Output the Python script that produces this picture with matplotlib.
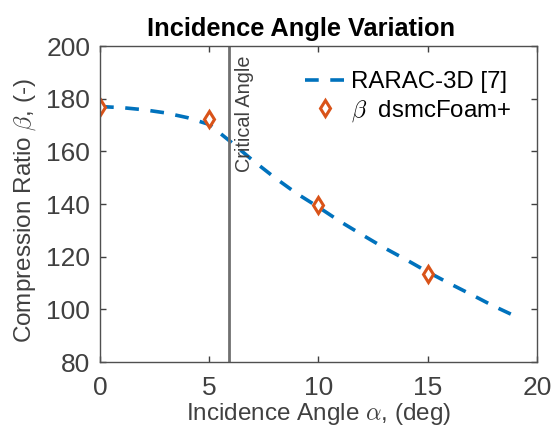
import matplotlib
matplotlib.use("Agg")
import matplotlib.pyplot as plt

# Data
x_line = [0, 1, 2, 3, 4, 5, 6, 7, 8, 9, 10, 11, 12, 13, 14, 15, 16, 17, 18, 18.8]
y_line = [177, 176.6, 175.8, 174.6, 172.8, 170.2, 163.5, 156.5, 150, 144, 138.8,
          133.3, 128.3, 123.4, 118.9, 114.2, 109.8, 105.6, 101.3, 98.2]
x_pts = [0, 5, 10, 15]
y_pts = [177, 172.3, 139.6, 113.4]
critical_angle = 5.9
x_ticks = [0, 5, 10, 15, 20]
y_ticks = [80, 100, 120, 140, 160, 180, 200]

plt.rcParams['font.family'] = ['Liberation Sans', 'DejaVu Sans']
plt.rcParams['mathtext.fontset'] = 'cm'

W, H = 555, 436
fig = plt.figure(figsize=(W/100, H/100), dpi=100)
ax = fig.add_axes([100/W, 1-362/H, (537-100)/W, (362-46)/H])

ax.plot(x_line, y_line, ls=(0, (3.8, 3.2)), color='#0072BD', lw=2.6, label='RARAC-3D [7]')
ax.plot(x_pts, y_pts, ls='none', marker='d', ms=8, mfc='white', mec='#D95319', mew=2.2,
        label=r'$\beta$  dsmcFoam+')
ax.axvline(critical_angle, color='#707070', lw=2)
ax.text(critical_angle + 0.3, 196.3, 'Critical Angle', rotation=90, ha='left', va='top',
        fontsize=14.3, color='#404040')

ax.set_xlim(0, 20)
ax.set_ylim(80, 200)
ax.set_xticks(x_ticks)
ax.set_yticks(y_ticks)
gray = '#404040'
ax.tick_params(direction='in', top=True, right=True, labelsize=19, colors=gray,
               length=4, width=1)
ax.tick_params(axis='x', pad=10)
ax.tick_params(axis='y', pad=7)
for s in ax.spines.values():
    s.set_color('#505050')
    s.set_linewidth(1)
ax.set_xlabel(r'Incidence Angle $\alpha$, (deg)', fontsize=17.5, color=gray, labelpad=1)
ax.set_ylabel(r'Compression Ratio $\beta$, (-)', fontsize=17.5, color=gray)
ax.yaxis.set_label_coords(-0.143, 0.478)
ax.set_title('Incidence Angle Variation', fontsize=18.3, fontweight='bold', pad=7,
             x=(301-100)/437)

leg = ax.legend(loc='upper right', frameon=False, fontsize=17.3, handlelength=1.7,
                borderaxespad=0.65, handletextpad=0.25, labelspacing=0.2)

fig.savefig('out.png', dpi=100)
